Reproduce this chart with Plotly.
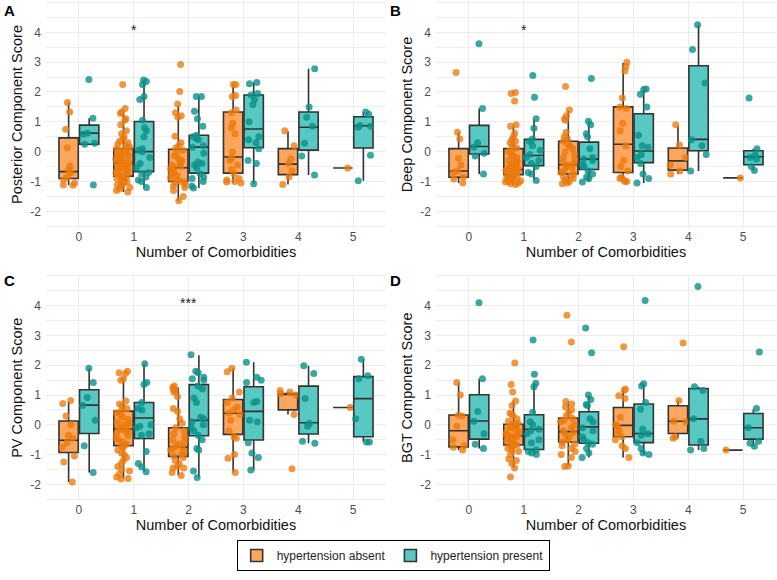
import plotly.graph_objects as go
from plotly.subplots import make_subplots

categories = ["0", "1", "2", "3", "4", "5"]
group_names = ["hypertension absent", "hypertension present"]
panel_letters = ["A", "B", "C", "D"]
y_titles = ["Posterior Component Score", "Deep Component Score",
            "PV Component Score", "BGT Component Score"]
y_tick_vals = [-2, -1, 0, 1, 2, 3, 4]
y_tick_text = ["-2", "-1", "0", "1", "2", "3", "4"]
sig_labels = ["*", "*", "***", ""]
sig_categories = ["1", "1", "2", ""]
sig_heights = [4.08, 4.08, 4.08, None]

# ---------------- Panel A: Posterior ----------------
posterior_absent_q1 = [-0.90, -0.82, -1.00, -0.72, -0.77, -0.55]
posterior_absent_med = [-0.67, -0.38, -0.54, -0.18, -0.42, -0.55]
posterior_absent_q3 = [0.46, 0.10, 0.08, 1.33, 0.10, -0.55]
posterior_absent_lo = [-1.12, -1.35, -1.66, -1.05, -1.10, -0.55]
posterior_absent_hi = [1.65, 1.30, 1.55, 2.28, 0.68, -0.55]
posterior_absent_pts = [
    [1.65, 1.33, 0.75, 0.13, -0.48, -0.62, -0.70, -0.85, -0.95, -1.05, -1.12, -1.13],
    [2.25, 1.45, 1.33, 1.28, 1.10, 1.05, 0.90, 0.70, 0.60, 0.50, 0.42, 0.35, 0.30, 0.25, 0.20,
     0.15, 0.10, 0.08, 0.05, 0.00, -0.05, -0.10, -0.12, -0.15, -0.20, -0.25, -0.28, -0.30,
     -0.35, -0.38, -0.40, -0.42, -0.45, -0.50, -0.55, -0.58, -0.60, -0.65, -0.70, -0.72,
     -0.75, -0.80, -0.82, -0.85, -0.88, -0.90, -0.95, -1.00, -1.02, -1.05, -1.10, -1.12,
     -1.15, -1.20, -1.25, -1.30, -1.35],
    [2.92, 2.02, 1.60, 1.30, 1.20, 1.15, 0.52, 0.30, 0.20, 0.12, 0.05, -0.05, -0.15, -0.25,
     -0.30, -0.40, -0.45, -0.50, -0.55, -0.58, -0.62, -0.70, -0.75, -0.80, -0.88, -0.95,
     -1.00, -1.02, -1.05, -1.10, -1.15, -1.20, -1.30, -1.50, -1.65],
    [2.25, 2.25, 1.88, 1.85, 1.40, 1.30, 0.95, 0.80, 0.60, 0.00, -0.20, -0.30, -0.45, -0.60,
     -0.75, -0.90, -0.95, -1.00, -1.05, -1.02],
    [0.70, 0.20, -0.25, -0.40, -0.65, -0.85, -1.10],
    [-0.55],
]
posterior_present_q1 = [0.25, -0.67, -0.72, 0.13, 0.05, 0.12]
posterior_present_med = [0.62, 0.00, 0.15, 0.76, 0.82, 0.87]
posterior_present_q3 = [0.89, 1.01, 0.55, 1.90, 1.33, 1.17]
posterior_present_lo = [0.25, -1.20, -1.22, -1.08, -0.78, -0.98]
posterior_present_hi = [1.12, 2.40, 1.85, 2.32, 2.78, 1.33]
posterior_present_pts = [
    [2.42, 1.12, 0.62, 0.58, 0.28, 0.25, -1.12],
    [2.40, 2.35, 2.25, 1.85, 1.75, 1.05, 0.80, 0.70, 0.50, 0.10, 0.05, 0.00, -0.20, -0.40,
     -0.55, -0.70, -0.75, -0.85, -0.95, -1.00, -1.20],
    [1.85, 1.85, 1.35, 1.10, 0.85, 0.55, 0.50, 0.45, 0.40, 0.20, 0.15, -0.05, -0.35, -0.40,
     -0.45, -0.55, -0.75, -0.85, -0.90, -1.00, -1.15, -1.22],
    [2.32, 2.28, 1.95, 1.90, 1.75, 1.58, 1.00, 0.50, 0.40, 0.30, 0.10, -0.30, -0.40, -1.08],
    [2.78, 1.50, 1.15, 0.85, 0.28, -0.15, -0.78],
    [1.33, 1.25, 0.88, 0.85, 0.82, -0.12, -0.98],
]

# ---------------- Panel B: Deep ----------------
deep_absent_q1 = [-0.86, -0.77, -0.75, -0.70, -0.62, -0.88]
deep_absent_med = [-0.65, -0.60, -0.44, 0.25, -0.31, -0.88]
deep_absent_q3 = [0.10, 0.10, 0.35, 1.50, 0.12, -0.88]
deep_absent_lo = [-1.05, -1.10, -1.08, -1.00, -0.75, -0.88]
deep_absent_hi = [0.65, 0.90, 1.38, 2.97, 0.88, -0.88]
deep_absent_pts = [
    [2.65, 0.65, 0.42, -0.22, -0.45, -0.65, -0.70, -0.85, -0.92, -1.05],
    [1.98, 1.95, 1.70, 0.90, 0.85, 0.62, 0.50, 0.40, 0.35, 0.30, 0.20, 0.12, 0.05, 0.00,
     -0.08, -0.15, -0.20, -0.28, -0.32, -0.35, -0.40, -0.45, -0.50, -0.52, -0.55, -0.58,
     -0.60, -0.62, -0.65, -0.68, -0.70, -0.72, -0.75, -0.78, -0.80, -0.82, -0.85, -0.88,
     -0.90, -0.92, -0.95, -0.98, -1.00, -1.02, -1.05, -1.08, -1.10],
    [2.18, 1.40, 1.20, 1.10, 1.05, 0.65, 0.50, 0.42, 0.35, 0.25, 0.18, 0.10, 0.00, -0.10,
     -0.20, -0.28, -0.35, -0.40, -0.45, -0.50, -0.55, -0.62, -0.70, -0.75, -0.80, -0.85,
     -0.90, -0.95, -1.00, -1.05, -1.08],
    [3.00, 2.85, 2.70, 1.80, 1.50, 1.45, 0.95, 0.70, 0.20, -0.30, -0.50, -0.65, -0.85, -0.90,
     -0.95, -1.00, -1.00],
    [0.90, 0.22, -0.20, -0.45, -0.65, -0.75],
    [-0.88],
]
deep_present_q1 = [-0.08, -0.47, -0.60, -0.37, 0.03, -0.44]
deep_present_med = [0.17, -0.13, -0.25, 0.02, 0.41, -0.17]
deep_present_q3 = [0.88, 0.41, 0.32, 1.27, 2.88, 0.03]
deep_present_lo = [-0.75, -0.97, -1.02, -1.05, -0.65, -0.63]
deep_present_hi = [1.45, 1.08, 1.02, 2.10, 4.25, 0.10]
deep_present_pts = [
    [3.62, 1.45, 0.30, 0.15, -0.05, -0.15, -0.75],
    [2.55, 1.82, 1.10, 0.78, 0.42, 0.35, 0.20, 0.05, -0.10, -0.20, -0.30, -0.40, -0.50,
     -0.70, -0.75, -0.97],
    [2.45, 1.02, 0.90, 0.60, 0.50, 0.10, -0.20, -0.25, -0.30, -0.45, -0.50, -0.65, -0.75,
     -0.85, -0.90, -1.02],
    [2.10, 2.08, 1.92, 1.50, 0.55, 0.20, 0.15, -0.10, -0.20, -0.40, -0.75, -0.90, -1.05],
    [4.25, 3.42, 2.30, 0.40, 0.20, -0.10, -0.65],
    [1.80, 0.10, -0.12, -0.20, -0.25, -0.50, -0.63],
]

# ---------------- Panel C: PV ----------------
pv_absent_q1 = [-0.93, -0.70, -1.06, -0.32, 0.50, 0.58]
pv_absent_med = [-0.52, -0.14, -0.75, 0.39, 1.03, 0.58]
pv_absent_q3 = [0.13, 0.46, -0.10, 0.85, 1.05, 0.58]
pv_absent_lo = [-1.92, -1.82, -1.70, -1.60, 0.35, 0.58]
pv_absent_hi = [0.78, 1.60, 1.25, 1.90, 1.10, 0.58]
pv_absent_pts = [
    [0.82, 0.72, 0.30, 0.00, -0.35, -0.45, -0.60, -0.75, -1.05, -1.25, -1.92],
    [1.80, 1.75, 1.72, 1.55, 1.50, 0.80, 0.70, 0.62, 0.55, 0.48, 0.40, 0.32, 0.25, 0.18,
     0.10, 0.05, 0.00, -0.05, -0.10, -0.15, -0.20, -0.25, -0.30, -0.38, -0.45, -0.50, -0.58,
     -0.65, -0.70, -0.75, -0.85, -0.95, -1.00, -1.10, -1.20, -1.30, -1.40, -1.50, -1.55,
     -1.65, -1.75, -1.80, -1.82],
    [1.30, 1.25, 1.20, 1.15, 1.10, 0.95, 0.55, 0.45, 0.20, 0.05, -0.10, -0.20, -0.30, -0.40,
     -0.50, -0.58, -0.65, -0.70, -0.75, -0.80, -0.85, -0.90, -0.98, -1.05, -1.10, -1.20,
     -1.30, -1.40, -1.45, -1.45, -1.60, -1.70],
    [1.90, 1.78, 1.10, 0.90, 0.75, 0.60, 0.50, 0.40, 0.35, 0.15, -0.20, -0.40, -0.45, -1.00,
     -1.12, -1.60],
    [1.15, 1.10, 1.05, 1.00, 0.35, -1.48],
    [0.58],
]
pv_present_q1 = [-0.29, -0.46, -0.37, -0.51, -0.31, -0.40]
pv_present_med = [0.66, 0.23, 0.15, 0.45, 0.07, 0.88]
pv_present_q3 = [1.18, 0.75, 1.35, 1.28, 1.30, 1.62]
pv_present_lo = [-1.60, -1.58, -1.77, -1.52, -0.62, -0.58]
pv_present_hi = [1.90, 2.05, 2.34, 2.10, 1.98, 2.20]
pv_present_pts = [
    [1.90, 1.42, 0.92, 0.65, 0.15, -0.70, -1.60],
    [2.05, 1.42, 1.35, 0.75, 0.55, 0.50, 0.00, -0.05, -0.10, -0.30, -0.35, -0.90, -1.30,
     -1.42, -1.58],
    [2.35, 1.80, 1.75, 1.60, 1.55, 1.50, 1.30, 1.20, 0.90, 0.75, 0.25, 0.20, 0.10, 0.00,
     -0.10, -0.20, -0.35, -0.50, -0.80, -0.85, -1.55, -1.77],
    [2.10, 1.60, 1.50, 1.42, 0.78, 0.75, 0.15, 0.10, -0.60, -0.95, -1.10, -1.52],
    [1.98, 1.72, 0.88, 0.05, -0.05, -0.55, -0.62],
    [2.20, 1.65, 1.55, 0.20, -0.58, -0.58],
]

# ---------------- Panel D: BGT ----------------
bgt_absent_q1 = [-0.74, -0.68, -0.58, -0.40, -0.29, -0.85]
bgt_absent_med = [-0.20, -0.37, -0.23, -0.02, 0.12, -0.85]
bgt_absent_q3 = [0.33, 0.02, 0.23, 0.58, 0.64, -0.85]
bgt_absent_lo = [-0.85, -1.45, -1.38, -1.10, -0.45, -0.85]
bgt_absent_hi = [1.42, 0.82, 0.78, 1.22, 0.82, -0.85]
bgt_absent_pts = [
    [1.42, 1.00, 0.32, 0.30, -0.05, -0.50, -0.70, -0.75, -0.85],
    [2.08, 1.35, 1.10, 0.80, 0.65, 0.40, 0.35, 0.30, 0.20, 0.12, 0.05, 0.02, 0.00, -0.05,
     -0.10, -0.15, -0.20, -0.25, -0.30, -0.32, -0.35, -0.38, -0.40, -0.45, -0.50, -0.55,
     -0.60, -0.65, -0.68, -0.70, -0.75, -0.80, -0.85, -0.90, -1.00, -1.15, -1.20, -1.30,
     -1.45, -1.75],
    [3.68, 2.78, 0.78, 0.70, 0.60, 0.50, 0.40, 0.30, 0.22, 0.15, 0.10, 0.00, -0.10, -0.20,
     -0.25, -0.30, -0.40, -0.50, -0.58, -0.65, -0.70, -0.80, -0.90, -1.00, -1.10, -1.38,
     -1.40],
    [2.62, 1.20, 1.15, 0.98, 0.88, 0.25, 0.00, -0.05, -0.20, -0.30, -0.40, -0.50, -0.70,
     -0.80, -1.10],
    [2.75, 0.82, 0.12, 0.10, -0.40, -0.45],
    [-0.85],
]
bgt_present_q1 = [-0.48, -0.83, -0.62, -0.60, -0.68, -0.48]
bgt_present_med = [0.13, -0.15, -0.07, -0.29, 0.20, -0.10]
bgt_present_q3 = [1.01, 0.34, 0.44, 0.70, 1.22, 0.38]
bgt_present_lo = [-0.80, -1.00, -1.10, -1.00, -0.85, -0.72]
bgt_present_hi = [1.55, 1.40, 0.98, 1.35, 1.28, 0.52]
bgt_present_pts = [
    [4.10, 1.55, 0.45, 0.12, -0.30, -0.65, -0.80],
    [2.85, 1.70, 1.40, 1.28, 0.42, 0.10, 0.00, -0.15, -0.20, -0.30, -0.50, -0.60, -0.85,
     -0.90, -0.95, -1.00],
    [3.25, 2.42, 1.00, 0.85, 0.68, 0.65, 0.20, 0.10, -0.10, -0.20, -0.40, -0.50, -0.60,
     -0.65, -0.80, -0.95, -1.10],
    [4.18, 1.38, 1.30, 0.75, 0.52, -0.15, -0.30, -0.35, -0.60, -0.80, -0.95, -1.00],
    [4.65, 1.28, 1.15, 0.20, -0.55, -0.80, -0.85],
    [2.45, 0.55, -0.10, -0.55, -0.62, -0.72],
]

panels = [
    [(posterior_absent_q1, posterior_absent_med, posterior_absent_q3, posterior_absent_lo,
      posterior_absent_hi, posterior_absent_pts),
     (posterior_present_q1, posterior_present_med, posterior_present_q3, posterior_present_lo,
      posterior_present_hi, posterior_present_pts)],
    [(deep_absent_q1, deep_absent_med, deep_absent_q3, deep_absent_lo, deep_absent_hi,
      deep_absent_pts),
     (deep_present_q1, deep_present_med, deep_present_q3, deep_present_lo, deep_present_hi,
      deep_present_pts)],
    [(pv_absent_q1, pv_absent_med, pv_absent_q3, pv_absent_lo, pv_absent_hi, pv_absent_pts),
     (pv_present_q1, pv_present_med, pv_present_q3, pv_present_lo, pv_present_hi,
      pv_present_pts)],
    [(bgt_absent_q1, bgt_absent_med, bgt_absent_q3, bgt_absent_lo, bgt_absent_hi,
      bgt_absent_pts),
     (bgt_present_q1, bgt_present_med, bgt_present_q3, bgt_present_lo, bgt_present_hi,
      bgt_present_pts)],
]

box_fills = ["#FCA65E", "#58C8C3"]
point_colors = ["rgba(236,122,12,0.78)", "rgba(10,145,136,0.8)"]
FONT = "Liberation Sans, Arial, sans-serif"

fig = make_subplots(rows=2, cols=2)
positions = [(1, 1), (1, 2), (2, 1), (2, 2)]

for p, (r, c) in enumerate(positions):
    for g in range(2):
        q1, med, q3, lo, hi, pts = panels[p][g]
        fig.add_trace(go.Box(
            x=categories, y=pts, q1=q1, median=med, q3=q3,
            lowerfence=lo, upperfence=hi,
            name=group_names[g], legendgroup=group_names[g], showlegend=(p == 0),
            offsetgroup=str(g),
            fillcolor=box_fills[g],
            line=dict(color="#333333", width=1.6),
            whiskerwidth=0,
            boxpoints="all", jitter=0.85, pointpos=0,
            marker=dict(color=point_colors[g], size=7, line=dict(width=0)),
            hoverinfo="skip",
        ), row=r, col=c)

# pixel layout
W, H = 777, 580
x_doms = [(46 / W, 386 / W), (436 / W, 776 / W)]
y_doms = [(1 - 228 / H, 1 - 1 / H), (1 - 501 / H, 1 - 274.5 / H)]

for p, (r, c) in enumerate(positions):
    axn = "" if p == 0 else str(p + 1)
    fig.layout["xaxis" + axn].update(
        domain=x_doms[c - 1], type="category", categoryorder="array",
        categoryarray=categories, range=[-0.6, 5.6],
        showgrid=True, gridcolor="#EBEBEB", gridwidth=1, zeroline=False, showline=False,
        tickfont=dict(size=12, color="#4D4D4D", family=FONT), automargin=False,
        ticks="", ticklabelstandoff=0,
        title=dict(text="Number of Comorbidities", font=dict(size=14.5, color="#111111", family=FONT),
                   standoff=0),
    )
    fig.layout["yaxis" + axn].update(
        domain=y_doms[r - 1], range=[-2.56, 5.05],
        tickmode="array", tickvals=y_tick_vals, ticktext=y_tick_text,
        showgrid=True, gridcolor="#EBEBEB", gridwidth=1, zeroline=False, showline=False,
        minor=dict(tickmode="linear", tick0=0, dtick=0.5, showgrid=True,
                   gridcolor="#EEEEEE", gridwidth=0.6),
        tickfont=dict(size=12, color="#4D4D4D", family=FONT), automargin=False,
        ticks="", ticklabelstandoff=4,
        title=dict(text=y_titles[p], font=dict(size=14.5, color="#111111", family=FONT),
                   standoff=4),
    )
    # panel letter
    fig.add_annotation(
        text="<b>" + panel_letters[p] + "</b>", xref="paper", yref="paper",
        x=(2 if c == 1 else 388) / W, y=1 - (0 if r == 1 else 270) / H,
        xanchor="left", yanchor="top", showarrow=False,
        font=dict(size=15, color="#000000", family=FONT),
    )
    if sig_labels[p]:
        fig.add_annotation(
            text=sig_labels[p], xref="x" + axn, yref="y" + axn,
            x=sig_categories[p], y=sig_heights[p], showarrow=False,
            font=dict(size=14, color="#222222", family=FONT),
        )

fig.update_layout(
    width=W, height=H, margin=dict(l=0, r=0, t=0, b=0),
    plot_bgcolor="white", paper_bgcolor="white",
    boxmode="group", boxgap=0.25, boxgroupgap=0.06,
    font=dict(family=FONT),
    legend=dict(orientation="h", x=0.506, xanchor="center", y=1 - 540 / H, yanchor="top",
                bordercolor="#000000", borderwidth=1, bgcolor="white",
                font=dict(size=12, color="#222222", family=FONT),
                itemwidth=30),
)

fig.write_html("out.html", config={"displayModeBar": False},
               post_script="document.body.style.margin='0px';")
